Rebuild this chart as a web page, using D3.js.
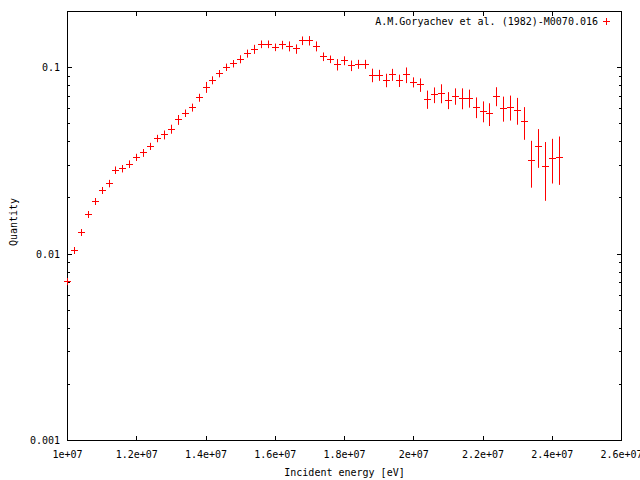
<!DOCTYPE html>
<html>
<head>
<meta charset="utf-8">
<script src="https://cdn.jsdelivr.net/npm/d3@7/dist/d3.min.js"></script>
<style>
  html, body { margin: 0; padding: 0; background: #fff; }
  svg { display: block; }
  text { font-family: "DejaVu Sans Mono", "Liberation Mono", monospace; font-size: 10px; fill: #000; }
</style>
</head>
<body>
<svg id="chart" width="640" height="480"></svg>
<script>
// ---- data ----
const energies = [
  1.00e7, 1.02e7, 1.04e7, 1.06e7, 1.08e7, 1.10e7, 1.12e7, 1.14e7, 1.16e7, 1.18e7,
  1.20e7, 1.22e7, 1.24e7, 1.26e7, 1.28e7, 1.30e7, 1.32e7, 1.34e7, 1.36e7, 1.38e7,
  1.40e7, 1.42e7, 1.44e7, 1.46e7, 1.48e7, 1.50e7, 1.52e7, 1.54e7, 1.56e7, 1.58e7,
  1.60e7, 1.62e7, 1.64e7, 1.66e7, 1.68e7, 1.70e7, 1.72e7, 1.74e7, 1.76e7, 1.78e7,
  1.80e7, 1.82e7, 1.84e7, 1.86e7, 1.88e7, 1.90e7, 1.92e7, 1.94e7, 1.96e7, 1.98e7,
  2.00e7, 2.02e7, 2.04e7, 2.06e7, 2.08e7, 2.10e7, 2.12e7, 2.14e7, 2.16e7, 2.18e7,
  2.20e7, 2.22e7, 2.24e7, 2.26e7, 2.28e7, 2.30e7, 2.32e7, 2.34e7, 2.36e7, 2.38e7,
  2.40e7, 2.42e7
];
const quantities = [
  0.0071, 0.0104, 0.0130, 0.0163, 0.0192, 0.0220, 0.0239, 0.0282, 0.0287, 0.0304,
  0.0331, 0.0349, 0.0379, 0.0417, 0.0436, 0.0468, 0.0525, 0.0570, 0.0611, 0.0690,
  0.0785, 0.0856, 0.0929, 0.1005, 0.1050, 0.1110, 0.1190, 0.1255, 0.1335, 0.1335,
  0.1286, 0.1323, 0.1302, 0.1259, 0.1395, 0.1395, 0.1302, 0.1145, 0.1109, 0.1038,
  0.1090, 0.1025, 0.1043, 0.1043, 0.0911, 0.0911, 0.0856, 0.0917, 0.0852, 0.0914,
  0.0835, 0.0808, 0.0677, 0.0714, 0.0729, 0.0669, 0.0703, 0.0686, 0.0686, 0.0614,
  0.0584, 0.0565, 0.0703, 0.0606, 0.0614, 0.0591, 0.0512, 0.0316, 0.0379, 0.0296,
  0.0327, 0.0331
];
const errors = [
  0.00029, 0.00038, 0.00048, 0.0006, 0.00071, 0.0009, 0.0011, 0.0013, 0.0013, 0.0014,
  0.0014, 0.0017, 0.0016, 0.0019, 0.0024, 0.0026, 0.0032, 0.0026, 0.0030, 0.0034,
  0.0053, 0.0042, 0.0042, 0.0046, 0.0048, 0.0055, 0.0059, 0.0070, 0.0063, 0.0063,
  0.0060, 0.0069, 0.0080, 0.0073, 0.0074, 0.0081, 0.0080, 0.0061, 0.0052, 0.0073,
  0.0060, 0.0067, 0.0058, 0.0058, 0.0076, 0.0062, 0.0071, 0.0068, 0.0065, 0.0088,
  0.0052, 0.0067, 0.0076, 0.0069, 0.0085, 0.0070, 0.0071, 0.0088, 0.0076, 0.0078,
  0.0075, 0.0079, 0.0082, 0.0093, 0.0094, 0.0097, 0.0102, 0.0089, 0.0089, 0.0103,
  0.0088, 0.0096
];
const xTickValues = [1.0e7, 1.2e7, 1.4e7, 1.6e7, 1.8e7, 2.0e7, 2.2e7, 2.4e7, 2.6e7];
const xTickLabels = ["1e+07", "1.2e+07", "1.4e+07", "1.6e+07", "1.8e+07", "2e+07", "2.2e+07", "2.4e+07", "2.6e+07"];
const yTickValues = [0.001, 0.01, 0.1];
const yTickLabels = ["0.001", "0.01", "0.1"];
const seriesName = "A.M.Goryachev et al. (1982)-M0070.016";
const xTitle = "Incident energy [eV]";
const yTitle = "Quantity";

// ---- layout ----
const L = 67.5, R = 621.5, T = 11.5, B = 440.5;
const red = "#ff0000";

const svg = d3.select("#chart");
const x = d3.scaleLinear().domain([1e7, 2.6e7]).range([L, R]);
const y = d3.scaleLog().domain([0.001, 0.2]).range([B, T]);

const snap = v => Math.round(v - 0.5) + 0.5;

// minor y ticks
const minorY = [];
[0.001, 0.01, 0.1].forEach(dec => {
  for (let k = 2; k <= 9; k++) { const v = dec * k; if (v <= 0.2 + 1e-12) minorY.push(v); }
});

const axes = svg.append("g").attr("stroke", "#000").attr("stroke-width", 1).attr("fill", "none");

// frame
axes.append("rect").attr("x", L).attr("y", T).attr("width", R - L).attr("height", B - T);

// y ticks (left and mirrored right)
yTickValues.forEach(v => {
  const yy = snap(y(v));
  axes.append("line").attr("x1", L).attr("x2", L + 4.5).attr("y1", yy).attr("y2", yy);
  axes.append("line").attr("x1", R).attr("x2", R - 4.5).attr("y1", yy).attr("y2", yy);
});
minorY.forEach(v => {
  const yy = snap(y(v));
  axes.append("line").attr("x1", L).attr("x2", L + 2.5).attr("y1", yy).attr("y2", yy);
  axes.append("line").attr("x1", R).attr("x2", R - 2.5).attr("y1", yy).attr("y2", yy);
});
// x ticks (bottom and mirrored top)
xTickValues.forEach(v => {
  const xx = snap(x(v));
  axes.append("line").attr("x1", xx).attr("x2", xx).attr("y1", B).attr("y2", B - 4.5);
  axes.append("line").attr("x1", xx).attr("x2", xx).attr("y1", T).attr("y2", T + 4.5);
});

// tick labels
const labels = svg.append("g");
yTickValues.forEach((v, i) => {
  labels.append("text").attr("x", 60).attr("y", y(v) + 3.5).attr("text-anchor", "end").text(yTickLabels[i]);
});
xTickValues.forEach((v, i) => {
  labels.append("text").attr("x", x(v)).attr("y", 457.5).attr("text-anchor", "middle").text(xTickLabels[i]);
});
// titles
labels.append("text").attr("x", (L + R) / 2).attr("y", 476).attr("text-anchor", "middle").text(xTitle);
labels.append("text").attr("transform", "translate(16.5,222) rotate(-90)").attr("text-anchor", "middle").text(yTitle);

// data
const data = energies.map((e, i) => ({ e, q: quantities[i], err: errors[i] }));
const pts = svg.append("g").attr("stroke", red).attr("stroke-width", 1);
data.forEach(d => {
  const xx = snap(x(d.e));
  const yy = snap(y(d.q));
  pts.append("line").attr("x1", xx).attr("x2", xx).attr("y1", y(d.q + d.err)).attr("y2", y(d.q - d.err));
  pts.append("line").attr("x1", xx - 3.5).attr("x2", xx + 3.5).attr("y1", yy).attr("y2", yy);
  pts.append("line").attr("x1", xx).attr("x2", xx).attr("y1", yy - 3.5).attr("y2", yy + 3.5);
});

// legend
labels.append("text").attr("x", 598).attr("y", 24.5).attr("text-anchor", "end").text(seriesName);
const lg = svg.append("g").attr("stroke", red).attr("stroke-width", 1);
lg.append("line").attr("x1", 603).attr("x2", 610).attr("y1", 21.5).attr("y2", 21.5);
lg.append("line").attr("x1", 606.5).attr("x2", 606.5).attr("y1", 18).attr("y2", 25);
</script>
</body>
</html>
